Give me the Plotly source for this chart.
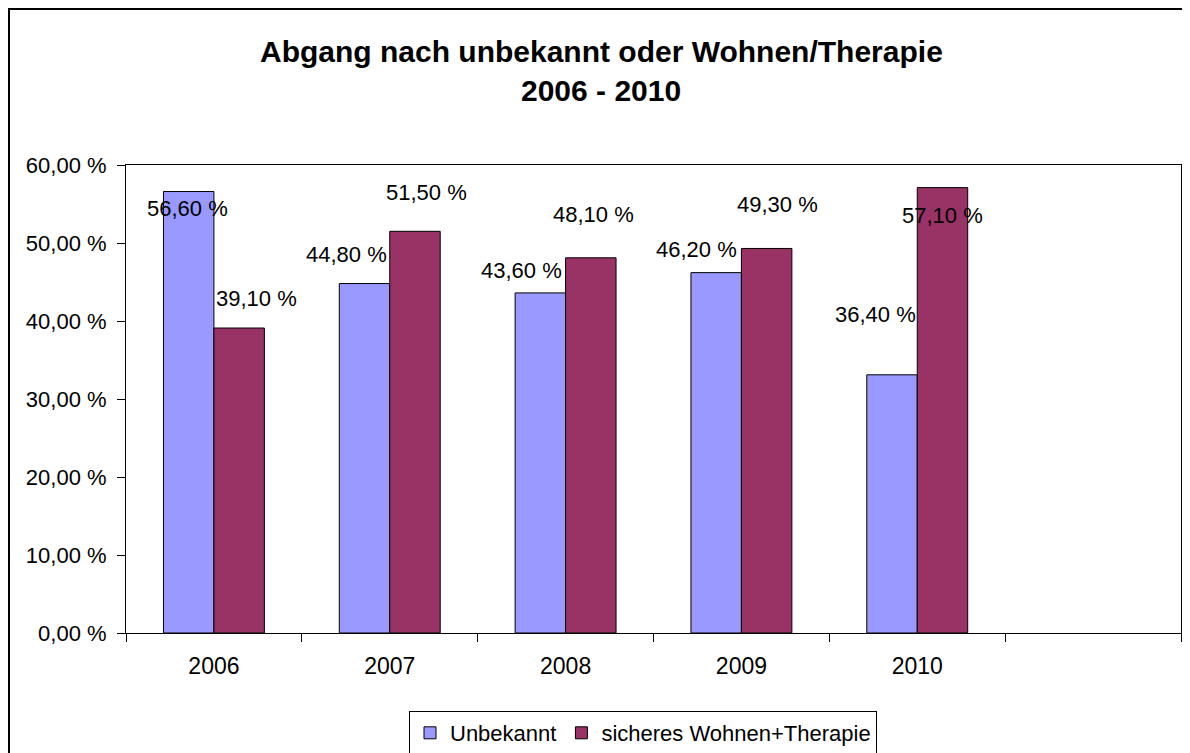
import plotly.graph_objects as go

years = ["2006", "2007", "2008", "2009", "2010"]
slots = years + [" "]
# bar heights as drawn in the original (the 2010 "Unbekannt" bar is drawn lower than its label)
unbekannt = [56.6, 44.8, 43.6, 46.2, 33.1]
sicheres = [39.1, 51.5, 48.1, 49.3, 57.1]
# data labels as printed in the original
unbekannt_labels = [56.6, 44.8, 43.6, 46.2, 36.4]
sicheres_labels = [39.1, 51.5, 48.1, 49.3, 57.1]
y_ticks = [0, 10, 20, 30, 40, 50, 60]

title_line1 = "Abgang nach unbekannt oder Wohnen/Therapie"
title_line2 = "2006 - 2010"

# label placement offsets (pixels) relative to bar top-centre, as in the original
u_dx = [-1, -18, -19, -20, -17]
u_dy = [17, -29, -22, -23, -60]
s_dx = [18, 12, 3, 11, 0]
s_dy = [-30, -39, -43, -44, 28]

FONT = "Liberation Sans, Arial, sans-serif"
C_U = "#9999FF"
C_S = "#993366"

# figure geometry (page has an 8px body margin)
W, H = 1182, 745
L, R, T, B = 118, 9, 157, 120
PW, PH = W - L - R, H - T - B


def px_to_paper_x(px):
    return (px - 8 - L) / PW


def px_to_paper_y(py):
    return (H - B - (py - 8)) / PH


def pct(v):
    return f"{v:.2f}".replace(".", ",") + " %"


fig = go.Figure()
fig.add_trace(go.Bar(x=years, y=unbekannt, name="Unbekannt",
                     marker=dict(color=C_U, line=dict(color="black", width=1))))
fig.add_trace(go.Bar(x=years, y=sicheres, name="sicheres Wohnen+Therapie",
                     marker=dict(color=C_S, line=dict(color="black", width=1))))

annotations = []
for i, yr in enumerate(years):
    annotations.append(dict(x=i, y=unbekannt[i], xref="x", yref="y", text=pct(unbekannt_labels[i]),
                            showarrow=False, xanchor="center", yanchor="middle",
                            xshift=-25 + u_dx[i], yshift=-u_dy[i],
                            font=dict(family=FONT, size=22, color="black")))
    annotations.append(dict(x=i, y=sicheres[i], xref="x", yref="y", text=pct(sicheres_labels[i]),
                            showarrow=False, xanchor="center", yanchor="middle",
                            xshift=25 + s_dx[i], yshift=-s_dy[i],
                            font=dict(family=FONT, size=22, color="black")))

# title lines
annotations.append(dict(x=px_to_paper_x(601), y=px_to_paper_y(52), xref="paper", yref="paper",
                        text=f"<b>{title_line1}</b>", showarrow=False,
                        xanchor="center", yanchor="middle",
                        font=dict(family=FONT, size=30, color="black")))
annotations.append(dict(x=px_to_paper_x(601), y=px_to_paper_y(91), xref="paper", yref="paper",
                        text=f"<b>{title_line2}</b>", showarrow=False,
                        xanchor="center", yanchor="middle",
                        font=dict(family=FONT, size=30, color="black")))

fig.update_layout(
    width=W, height=H,
    margin=dict(l=L, r=R, t=T, b=B, autoexpand=False),
    paper_bgcolor="white", plot_bgcolor="white",
    barmode="group", bargap=0.426, bargroupgap=0,
    font=dict(family=FONT, size=22, color="black"),
    showlegend=True,
    legend=dict(orientation="h", x=px_to_paper_x(643), y=px_to_paper_y(711),
                xanchor="center", yanchor="top",
                bordercolor="black", borderwidth=1, bgcolor="white",
                font=dict(family=FONT, size=22, color="black"),
                itemwidth=30, tracegroupgap=0),
    annotations=annotations,
    shapes=[dict(type="rect", xref="paper", yref="paper",
                 x0=(1 - L) / PW, x1=(W + 20 - L) / PW,
                 y0=(-20 - B) / PH, y1=(H - B - 1) / PH,
                 line=dict(color="black", width=2), fillcolor="rgba(0,0,0,0)", layer="below")],
)

fig.update_xaxes(type="category", categoryorder="array", categoryarray=slots,
                 range=[-0.5, 5.5], showline=True, linecolor="black", linewidth=1, mirror=True,
                 ticks="outside", tickson="boundaries", ticklen=8, tickcolor="black",
                 ticklabelstandoff=12,
                 showgrid=False, zeroline=False, tickfont=dict(family=FONT, size=23))
fig.update_yaxes(range=[0, 60], tickvals=y_ticks, ticktext=[pct(v) for v in y_ticks],
                 showline=True, linecolor="black", linewidth=1, mirror=True,
                 ticks="outside", ticklen=8, tickcolor="black", ticklabelstandoff=6,
                 showgrid=False, zeroline=False, tickfont=dict(family=FONT, size=22))

fig.write_html("out.html")
